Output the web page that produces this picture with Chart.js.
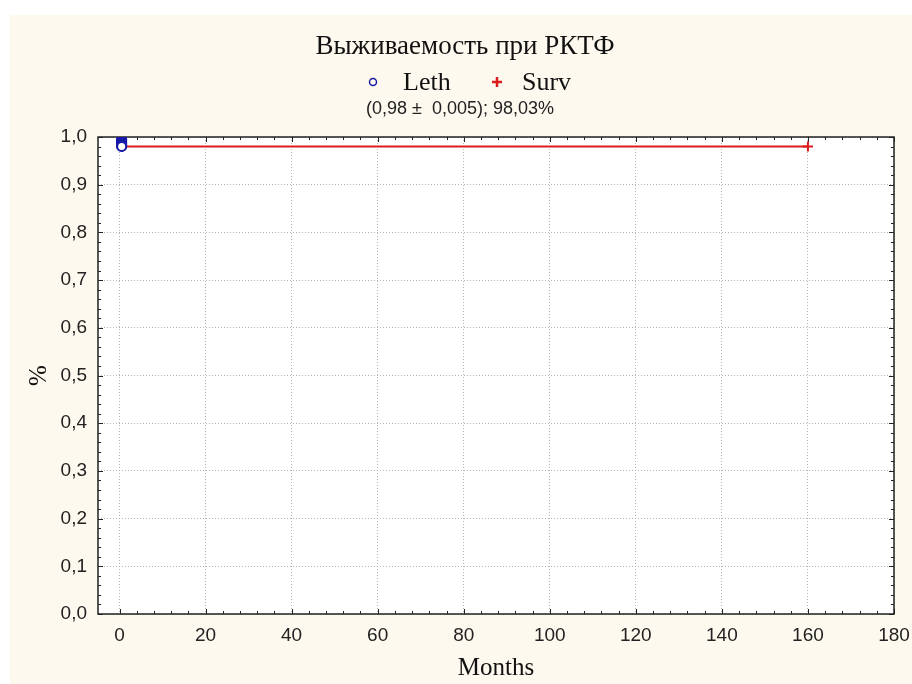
<!DOCTYPE html>
<html>
<head>
<meta charset="utf-8">
<script src="https://cdn.jsdelivr.net/npm/chart.js@4"></script>
<style>
  html, body { margin: 0; padding: 0; background: #fff; }
  #wrap { width: 912px; height: 684px; }
</style>
</head>
<body>
<div id="wrap"><canvas id="myChart" width="912" height="684"></canvas></div>
<script>
var ctx = document.getElementById("myChart").getContext('2d');

const chartTitle = 'Выживаемость при РКТФ';
const subTitle = '(0,98 \u00B1  0,005); 98,03%';
const seriesNames = ['Leth', 'Surv'];

// Leth: deaths stacked at ~0.5 month
const lethX = [0.5, 0.5, 0.5, 0.5, 0.5, 0.5, 0.5, 0.5, 0.5, 0.5, 0.5, 0.5];
const lethY = [0.995, 0.9935, 0.992, 0.9905, 0.989, 0.9875, 0.986, 0.9845, 0.983, 0.9815, 0.981, 0.9803];
// Surv: flat survival line to last censored case at 160
const survX = [0.5, 160];
const survY = [0.9803, 0.9803];

const xTicks = [0, 20, 40, 60, 80, 100, 120, 140, 160, 180];
const yTicks = [0, 0.1, 0.2, 0.3, 0.4, 0.5, 0.6, 0.7, 0.8, 0.9, 1.0];
const yTickLabels = ['0,0', '0,1', '0,2', '0,3', '0,4', '0,5', '0,6', '0,7', '0,8', '0,9', '1,0'];

const navy = '#1a1aa8';
const red = '#dc1c1c';
const serif = "'Liberation Serif', 'Times New Roman', serif";
const sans = "'Liberation Sans', Arial, sans-serif";

// background, white plot area, box + inward ticks
const frame = {
  id: 'frame',
  beforeDraw(chart) {
    const c = chart.ctx, a = chart.chartArea;
    c.save();
    c.fillStyle = '#fff';
    c.fillRect(0, 0, chart.width, chart.height);
    c.fillStyle = '#fef9ee';
    c.fillRect(10, 15, chart.width - 10, chart.height - 15);
    c.fillStyle = '#fff';
    c.fillRect(a.left, a.top, a.right - a.left, a.bottom - a.top);
    c.restore();
  },
  beforeDatasetsDraw(chart) {
    const c = chart.ctx, a = chart.chartArea;
    const xs = chart.scales.x, ys = chart.scales.y;
    c.save();
    c.strokeStyle = '#222';
    c.lineWidth = 1;
    c.beginPath();
    for (let v = 0; v <= 180; v += 4) {
      const px = Math.round(xs.getPixelForValue(v)) + 0.5;
      const len = v % 20 === 0 ? 5 : 3;
      c.moveTo(px, a.bottom); c.lineTo(px, a.bottom - len);
      c.moveTo(px, a.top); c.lineTo(px, a.top + len);
    }
    for (let i = 0; i <= 50; i++) {
      const py = Math.round(ys.getPixelForValue(i / 50)) + 0.5;
      const len = i % 5 === 0 ? 5 : 3;
      c.moveTo(a.left, py); c.lineTo(a.left + len, py);
      c.moveTo(a.right, py); c.lineTo(a.right - len, py);
    }
    c.stroke();
    c.lineWidth = 1.5;
    c.strokeRect(a.left, a.top, a.right - a.left, a.bottom - a.top);
    c.restore();
  },
  afterDraw(chart) {
    const c = chart.ctx;
    c.save();
    c.fillStyle = '#111';
    c.textBaseline = 'middle';
    c.textAlign = 'center';
    c.font = '27px ' + serif;
    c.fillText(chartTitle, 465, 47);
    // legend
    c.font = '26px ' + serif;
    c.textAlign = 'left';
    c.strokeStyle = navy;
    c.lineWidth = 1.5;
    c.beginPath();
    c.arc(373, 82, 3.5, 0, Math.PI * 2);
    c.stroke();
    c.fillText(seriesNames[0], 403, 83);
    c.strokeStyle = red;
    c.lineWidth = 2.5;
    c.beginPath();
    c.moveTo(492, 82); c.lineTo(502, 82);
    c.moveTo(497, 77); c.lineTo(497, 87);
    c.stroke();
    c.fillText(seriesNames[1], 522, 83);
    c.textAlign = 'center';
    c.font = '18px ' + sans;
    c.fillStyle = '#222';
    c.fillText(subTitle, 460, 109);
    c.restore();
  }
};

const data = {
  datasets: [{
    label: seriesNames[0],
    data: lethX.map((x, i) => ({x: x, y: lethY[i]})),
    showLine: false,
    pointStyle: 'circle',
    pointRadius: 4.5,
    pointBorderWidth: 2,
    borderColor: navy,
    backgroundColor: '#fff'
  }, {
    label: seriesNames[1],
    data: survX.map((x, i) => ({x: x, y: survY[i]})),
    showLine: true,
    borderColor: red,
    backgroundColor: red,
    borderWidth: 2,
    pointStyle: 'cross',
    pointRadius: [0, 5],
    pointBorderWidth: 2
  }]
};

const config = {
  type: 'scatter',
  data,
  options: {
    responsive: false,
    animation: false,
    layout: { padding: { left: 0, right: 18, top: 137, bottom: 0 } },
    plugins: {
      legend: { display: false },
      title: { display: false },
      tooltip: { enabled: false }
    },
    scales: {
      x: {
        type: 'linear',
        min: -5,
        max: 180,
        afterFit: s => { s.height = 70; s.paddingLeft = 0; s.paddingRight = 0; },
        afterBuildTicks: s => { s.ticks = xTicks.map(v => ({value: v})); },
        grid: { color: '#b4b4b4', lineWidth: 1, drawTicks: false },
        border: { display: false, dash: [1, 2] },
        ticks: { padding: 10, color: '#222', font: { family: sans, size: 19 }, maxRotation: 0 },
        title: { display: true, text: 'Months', color: '#111', font: { family: serif, size: 25 }, padding: { top: 0, bottom: 1 } }
      },
      y: {
        type: 'linear',
        min: 0,
        max: 1,
        afterFit: s => { s.width = 98; s.paddingTop = 0; s.paddingBottom = 0; },
        afterBuildTicks: s => { s.ticks = yTicks.map(v => ({value: v})); },
        grid: { color: '#b4b4b4', lineWidth: 1, drawTicks: false },
        border: { display: false, dash: [1, 2] },
        ticks: {
          padding: 11, color: '#222', font: { family: sans, size: 19 },
          callback: (v, i) => yTickLabels[i]
        },
        title: { display: true, text: '%', color: '#111', font: { family: serif, size: 25 }, padding: { top: 24, bottom: 0 } }
      }
    }
  },
  plugins: [frame]
};

var myChart = new Chart(ctx, config);
</script>
</body>
</html>
